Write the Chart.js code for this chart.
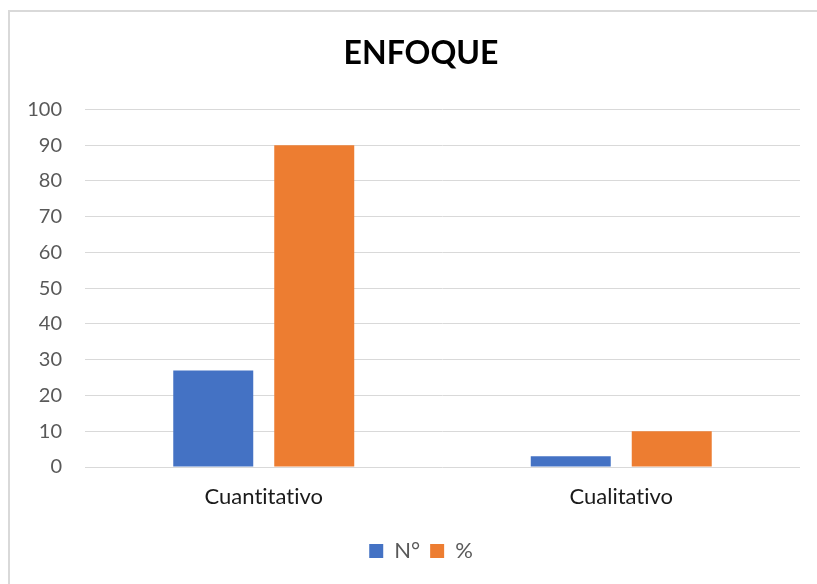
<!DOCTYPE html>
<html>
<head>
<meta charset="utf-8">
<script src="https://cdn.jsdelivr.net/npm/chart.js@4.4.1/dist/chart.umd.min.js"></script>
<style>
  html, body { margin: 0; padding: 0; background: #ffffff; }
  #frame { position: absolute; left: 8px; top: 10px; width: 900px; height: 700px;
           border-left: 2px solid #d9d9d9; border-top: 2px solid #d9d9d9; box-sizing: border-box; }
  #wrap { position: absolute; left: 0; top: 0; width: 817px; height: 584px; }
</style>
</head>
<body>
<div id="frame"></div>
<div id="wrap"><canvas id="c" width="817" height="584"></canvas></div>
<script>
const titleText = 'ENFOQUE';
const categories = ['Cuantitativo', 'Cualitativo'];
const seriesNames = ['N°', '%'];
const countValues = [27, 3];
const percentValues = [90, 10];
const yTicks = [0, 10, 20, 30, 40, 50, 60, 70, 80, 90, 100];

const FONT = 'Lato, "Open Sans", sans-serif';

const noLigatures = {
  id: 'noLigatures',
  beforeDraw(chart) { try { chart.ctx.textRendering = 'optimizeSpeed'; } catch (e) {} }
};

new Chart(document.getElementById('c'), {
  type: 'bar',
  data: {
    labels: categories,
    datasets: [
      { label: seriesNames[0], data: countValues, backgroundColor: '#4472C4',
        categoryPercentage: 0.565, barPercentage: 0.792 },
      { label: seriesNames[1], data: percentValues, backgroundColor: '#ED7D31',
        categoryPercentage: 0.565, barPercentage: 0.792 }
    ]
  },
  plugins: [noLigatures],
  options: {
    responsive: false,
    animation: false,
    devicePixelRatio: 1,
    layout: { padding: { left: 25, right: 0, top: 0, bottom: 12 } },
    plugins: {
      title: {
        display: true, text: titleText, color: '#000000',
        font: { family: FONT, size: 32, weight: 'bold', lineHeight: 1.2 },
        padding: { top: 34, bottom: 37 }
      },
      legend: {
        position: 'bottom',
        labels: {
          color: '#595959', font: { family: FONT, size: 22 },
          boxWidth: 14, boxHeight: 14, padding: 10
        }
      },
      tooltip: { enabled: false }
    },
    scales: {
      x: {
        grid: { display: false, drawTicks: false },
        border: { display: false },
        ticks: { color: '#1a1a1a', font: { family: FONT, size: 22 }, padding: 17 },
        afterFit: (s) => { s.height = 63; }
      },
      y: {
        min: 0, max: 100,
        afterBuildTicks: (s) => { s.ticks = yTicks.map(v => ({ value: v })); },
        grid: { color: '#d9d9d9', lineWidth: 1, drawTicks: false },
        border: { display: false },
        ticks: { color: '#595959', font: { family: FONT, size: 20 }, padding: 23 },
        afterFit: (s) => { s.width = 60; }
      },
      yRight: {
        position: 'right',
        min: 0, max: 100,
        grid: { display: false, drawTicks: false },
        border: { display: false },
        ticks: { display: false },
        afterFit: (s) => { s.width = 17; }
      }
    }
  }
});
</script>
</body>
</html>
